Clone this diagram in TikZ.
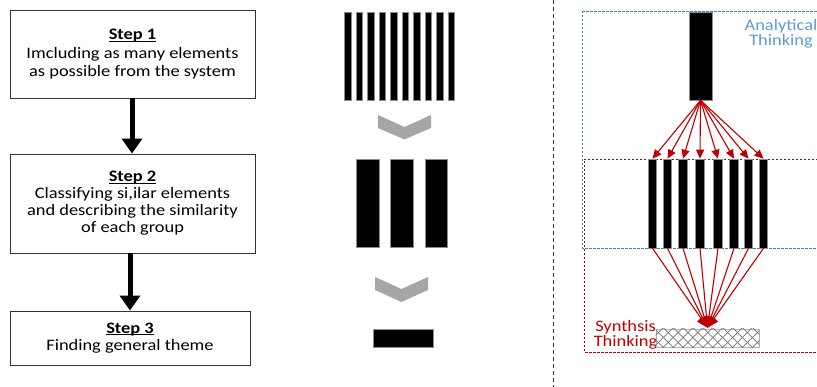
\documentclass[tikz,border=0pt]{standalone}
\usepackage{fontspec}
\setmainfont[FakeStretch=1.15]{Carlito}
\usetikzlibrary{arrows.meta,patterns.meta}
\definecolor{dred}{HTML}{C00000}
\definecolor{lblue}{HTML}{5B9BD5}
\definecolor{dblue}{HTML}{2E86D0}
\definecolor{chev}{HTML}{A6A6A6}
\newcommand\wordul[1]{\setbox0\hbox{#1}\rlap{\rule[-1.9pt]{\wd0}{0.9pt}}\box0}
\tikzset{
  stepbox/.style={draw=black!80, line width=0.9pt, fill=white, align=center, inner sep=0pt},
  bigarrow/.style={line width=5pt, -{Triangle[width=20pt,length=15pt]}},
  bar/.style={fill=black, draw=black!45, line width=0.6pt, inner sep=0pt},
  chevron/.style={fill=chev, draw=none},
  redarrow/.style={dred, line width=1.1pt, -{Triangle[width=8pt,length=9pt]}},
  redarrowb/.style={dred, line width=1.1pt, -{Triangle[width=10pt,length=11pt]}},
  label/.style={align=center, font=\fontsize{16}{15}\selectfont, inner sep=0pt},
}
\begin{document}
\begin{tikzpicture}[x=1pt,y=-1pt]
\useasboundingbox (0,0) rectangle (817,387);
% ---------- left flowchart ----------
\node[stepbox, minimum width=245pt, minimum height=88pt, font=\fontsize{16}{17.5}\selectfont] (s1) at (132.5,54)
  {\wordul{\textbf{Step 1}}\\[1.5pt]Imcluding as many elements\\as possible from the system};
\node[stepbox, minimum width=245pt, minimum height=99pt, font=\fontsize{16}{17}\selectfont] (s2) at (132.5,203.5)
  {\wordul{\textbf{Step 2}}\\Classifying si,ilar elements\\and describing the similarity\\of each group};
\node[stepbox, minimum width=240pt, minimum height=54pt, font=\fontsize{16}{17.5}\selectfont] (s3) at (130,338)
  {\wordul{\textbf{Step 3}}\\Finding general theme};
\draw[bigarrow] ([xshift=-0.5pt]s1.south) -- ([xshift=-0.5pt]s2.north);
\draw[bigarrow] ([xshift=-2.5pt]s2.south) -- (s3.north);
% ---------- middle ----------
\foreach \i in {0,...,9}{
  \node[bar, minimum width=6.5pt, minimum height=88pt] (m\i) at ({348+\i*11.5},56) {};
}
\path[chevron] (378,115) -- (404.5,127) -- (431,115) -- (431,128) -- (404.5,139.5) -- (378,128) -- cycle;
\node[bar, minimum width=23pt, minimum height=88pt] (g1) at (367.5,203) {};
\node[bar, minimum width=23pt, minimum height=88pt] (g2) at (401.5,203) {};
\node[bar, minimum width=22pt, minimum height=88pt] (g3) at (436,203) {};
\path[chevron] (375,277) -- (401.5,289) -- (428,277) -- (428,290) -- (401.5,302) -- (375,290) -- cycle;
\node[bar, minimum width=60pt, minimum height=18pt] (t1) at (403,338) {};
% ---------- divider ----------
\draw[black!80, line width=0.8pt, dash pattern=on 4pt off 3pt] (553,0) -- (553,387);
% ---------- right ----------
\draw[dblue, line width=0.8pt, dash pattern=on 2.5pt off 1.5pt] (582,11) -- (830,11) (582,11) -- (582,248) -- (830,248);
\draw[dred, line width=0.8pt, dash pattern=on 2.5pt off 1.5pt] (830,159) -- (584,159) -- (584,352) -- (830,352);
\node[label, text=lblue] (at) at (781,34) {Analytical\\Thinking};
\node[label, text=dred] (st) at (625.5,335) {Synthsis\\Thinking};
\node[bar, minimum width=23pt, minimum height=88pt] (top) at (700.5,56) {};
\foreach \x [count=\i] in {652.5,667.5,683,700,718,734,748.5,763.5}{
  \node[bar, minimum width=8.5pt, minimum height=89pt] (r\i) at (\x,203.5) {};
}
\node[draw=black!30, line width=0.6pt, minimum width=103pt, minimum height=18pt, inner sep=0pt] (hx) at (707.5,338) {};
\fill[pattern={Lines[angle=45,distance=7pt,line width=0.7pt]}, pattern color=black!55] (hx.south west) rectangle (hx.north east);
\fill[pattern={Lines[angle=-45,distance=7pt,line width=0.7pt]}, pattern color=black!55] (hx.south west) rectangle (hx.north east);
\foreach \i in {1,...,8}{
  \draw[redarrow] (top.south) -- (r\i.north);
  \draw[redarrowb] (r\i.south) -- ([yshift=1pt]hx.north);
}
\end{tikzpicture}
\end{document}
